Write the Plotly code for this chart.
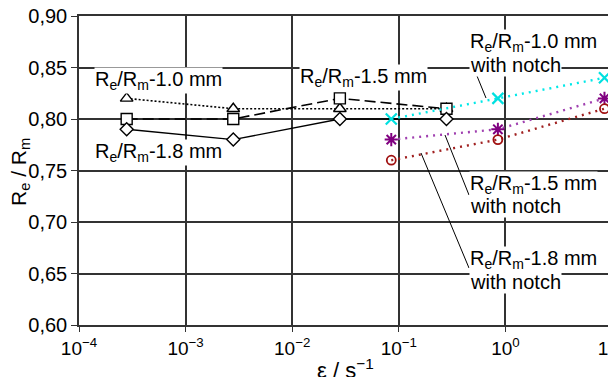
import plotly.graph_objects as go

# ---- data ----
rate_plain = [0.00028, 0.0028, 0.028, 0.28]
re_rm_10 = [0.82, 0.81, 0.81, 0.81]
re_rm_15 = [0.80, 0.80, 0.82, 0.81]
re_rm_18 = [0.79, 0.78, 0.80, 0.80]

rate_notch = [0.085, 0.85, 8.5]
re_rm_10_notch = [0.80, 0.82, 0.84]
re_rm_15_notch = [0.78, 0.79, 0.82]
re_rm_18_notch = [0.76, 0.78, 0.81]

y_ticks = [0.60, 0.65, 0.70, 0.75, 0.80, 0.85, 0.90]
y_ticktext = ["0,60", "0,65", "0,70", "0,75", "0,80", "0,85", "0,90"]
x_ticks = [1e-4, 1e-3, 1e-2, 1e-1, 1e0, 1e1]
x_ticktext = ["10<sup>−4</sup>", "10<sup>−3</sup>", "10<sup>−2</sup>",
              "10<sup>−1</sup>", "10<sup>0</sup>", "10<sup>1</sup>"]

FONT = "Liberation Sans, Arial, sans-serif"
OFF = 8  # page body margin
W, H = 616 - OFF, 385 - 2 * OFF   # keep page free of scrollbars
# plot box in page pixels
L, R, T, B = 79, 612, 16, 325


def px(x):
    return (x - L) / (R - L)


def py(y):
    return (B - y) / (B - T)


fig = go.Figure()
fig.add_trace(go.Scatter(x=rate_plain, y=re_rm_10, mode="lines+markers",
    line=dict(color="black", width=1.6, dash="2px,2px"),
    marker=dict(symbol="triangle-up", size=11, color="white", line=dict(color="black", width=1.4))))
fig.add_trace(go.Scatter(x=rate_plain, y=re_rm_15, mode="lines+markers",
    line=dict(color="black", width=1.6, dash="11px,5px"),
    marker=dict(symbol="square", size=11, color="white", line=dict(color="black", width=1.4))))
fig.add_trace(go.Scatter(x=rate_plain, y=re_rm_18, mode="lines+markers",
    line=dict(color="black", width=1.4),
    marker=dict(symbol="diamond", size=10, color="white", line=dict(color="black", width=1.4))))

fig.add_trace(go.Scatter(x=rate_notch, y=re_rm_10_notch, mode="lines+markers",
    line=dict(color="#00e8e8", width=2.4, dash="2px,5px"),
    marker=dict(symbol="x-thin", size=11, line=dict(color="#00e0e0", width=2.2))))
fig.add_trace(go.Scatter(x=rate_notch, y=re_rm_15_notch, mode="lines+markers",
    line=dict(color="#a040b0", width=2.4, dash="2px,5px"),
    marker=dict(symbol="asterisk", size=11, line=dict(color="#800080", width=2))))
fig.add_trace(go.Scatter(x=rate_notch, y=re_rm_18_notch, mode="lines+markers",
    line=dict(color="#a02020", width=2.4, dash="2px,5px"),
    marker=dict(symbol="circle-open", size=9, line=dict(width=1.8), color="#a01010")))


def lab(text, x, y):
    fig.add_annotation(text=text, x=px(x), y=py(y), xref="paper", yref="paper",
                       xanchor="left", yanchor="middle", showarrow=False,
                       align="left", bgcolor="white", borderpad=0,
                       font=dict(family=FONT, size=20, color="black"))


# leader lines (page pixel positions converted to paper coords)
for (x0, y0, x1, y1) in [(477, 76, 486, 98),
                         (445, 135, 469, 195),
                         (421, 153, 469, 268)]:
    fig.add_shape(type="line", xref="paper", yref="paper",
                  x0=px(x0), y0=py(y0), x1=px(x1), y1=py(y1),
                  line=dict(color="black", width=1))

RERM = "R<sub>e</sub>/R<sub>m</sub>"
lab(RERM + "-1.0 mm", 94, 80)
lab(RERM + "-1.8 mm", 94, 153)
lab(RERM + "-1.5 mm", 299, 78)
lab(RERM + "-1.0 mm", 469, 43)
lab("with notch", 469, 65)
lab(RERM + "-1.5 mm", 469, 184)
lab("with notch", 469, 206)
lab(RERM + "-1.8 mm", 469, 260)
lab("with notch", 469, 282)

# axis titles
fig.add_annotation(text="ε / s<sup>−1</sup>", x=px(345), y=py(369), xref="paper", yref="paper",
                   xanchor="center", yanchor="middle", showarrow=False,
                   font=dict(family=FONT, size=22, color="black"))
fig.add_annotation(text="R<sub>e</sub> / R<sub>m</sub>", x=px(20), y=py(172), xref="paper", yref="paper",
                   xanchor="center", yanchor="middle", showarrow=False, textangle=-90,
                   font=dict(family=FONT, size=21, color="black"))

fig.update_xaxes(type="log", range=[-4, 1], tickvals=x_ticks, ticktext=x_ticktext,
                 showgrid=True, gridcolor="#333333", gridwidth=1.5, automargin=False,
                 showline=True, linecolor="#333333", linewidth=1.5, mirror=True,
                 ticks="outside", ticklen=5, tickcolor="#333333",
                 ticklabeloverflow="allow",
                 tickfont=dict(family=FONT, size=19, color="black"))
fig.update_yaxes(range=[0.60, 0.90], tickvals=y_ticks, ticktext=y_ticktext,
                 showgrid=True, gridcolor="#333333", gridwidth=1.5, zeroline=False,
                 automargin=False, ticklabeloverflow="allow",
                 showline=True, linecolor="#333333", linewidth=1.5, mirror=True,
                 ticks="outside", ticklen=6, tickcolor="#333333",
                 tickfont=dict(family=FONT, size=20, color="black"))

fig.update_layout(width=W, height=H, showlegend=False,
                  margin=dict(l=L - OFF, r=W - (R - OFF), t=T - OFF, b=H - (B - OFF)),
                  paper_bgcolor="white", plot_bgcolor="white")

fig.write_html("out.html")
